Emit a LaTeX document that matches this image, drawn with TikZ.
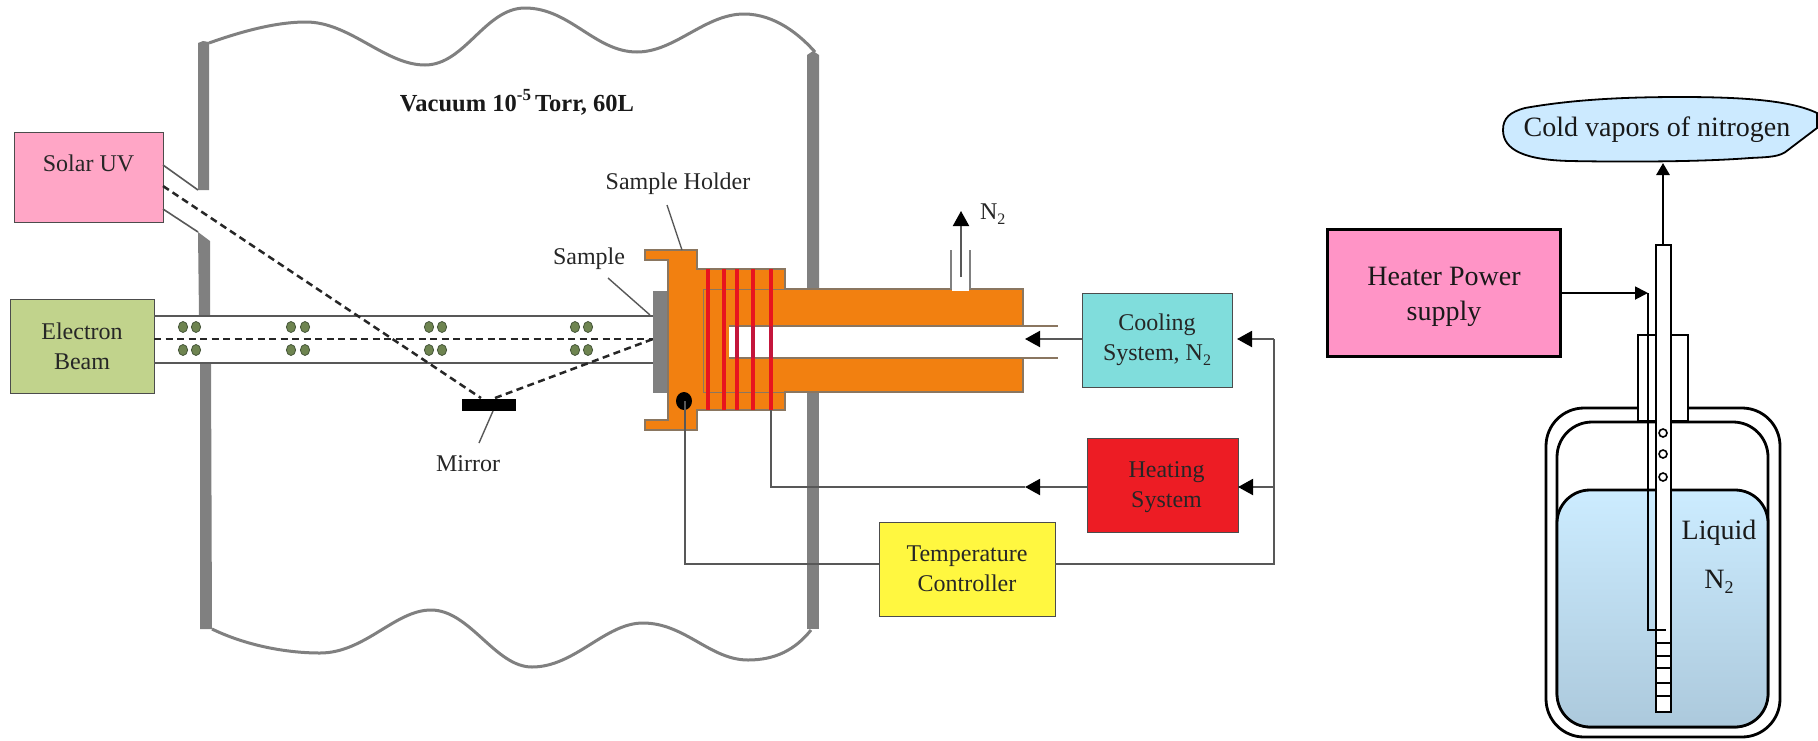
\documentclass[tikz,border=0pt]{standalone}
\usepackage{fontspec}
\setmainfont{Liberation Serif}
\usetikzlibrary{arrows.meta}
\definecolor{wallgray}{HTML}{808080}
\definecolor{wiregray}{HTML}{585858}
\definecolor{holderorange}{HTML}{F28010}
\definecolor{holderedge}{HTML}{8A7660}
\definecolor{coilred}{HTML}{E8141E}
\definecolor{coilhole}{HTML}{C4163C}
\definecolor{dotolive}{HTML}{6E8450}
\definecolor{dotedge}{HTML}{46563A}
\newcommand{\subtwo}[1]{\raisebox{-5pt}{\fontsize{#1}{#1}\selectfont 2}}
\newcommand{\fs}[1]{\fontsize{#1}{#1}\selectfont}
\tikzset{
  wallbar/.style={fill=wallgray,draw=none},
  wave/.style={draw=wallgray,line width=3pt},
  wire/.style={draw=wiregray,line width=2pt},
  beamline/.style={draw=wiregray,line width=2.2pt},
  beamdash/.style={draw=black!85,line width=2.5pt,dash pattern=on 7pt off 4.5pt},
  flow/.style={wire,-{Triangle[length=15pt,width=16pt,fill=black,color=black]}},
  leftbox/.style={draw=black!70,line width=1pt,inner sep=0pt,outer sep=0pt,align=center,font=\fs{24},text=black!85},
  lefttext/.style={inner sep=0pt,outer sep=0pt,align=center,font=\fs{24},text=black!85},
  rightline/.style={draw=black,line width=2.8pt},
  righttext/.style={inner sep=0pt,outer sep=0pt,align=center,font=\fs{28},text=black!90},
  edot/.style={fill=dotolive,draw=dotedge,line width=.8pt},
  coil/.style={draw=coilred,line width=4.5pt}
}
\begin{document}
\begin{tikzpicture}[x=1pt,y=-1pt,line join=miter]
\useasboundingbox (0,0) rectangle (1818,740);
\fill[white] (0,0) rectangle (1818,740);

% ---- chamber walls
\fill[wallbar] (198,43) -- (203,41) -- (209,42) -- (209,190) -- (198,190) -- cycle;
\fill[wallbar] (198,232) -- (210,241) -- (210,316) -- (199,316) -- cycle;
\fill[wallbar] (200,363) -- (211,363) -- (212,629) -- (200,629) -- cycle;
\fill[wallbar] (807,55) -- (813,51) -- (819,55) -- (819,289) -- (807,289) -- cycle;
\fill[wallbar] (807,392) -- (819,392) -- (819,629) -- (807,629) -- cycle;
\draw[wave] (209,43) .. controls (240,32) and (275,22) .. (306,22) .. controls (350,22) and (385,65) .. (425,65) .. controls (465,65) and (485,8) .. (525,8) .. controls (570,8) and (595,52) .. (637,52) .. controls (675,52) and (705,14) .. (744,14) .. controls (775,14) and (800,35) .. (815,52);
\draw[wave] (212,629) .. controls (245,645) and (285,653) .. (320,653) .. controls (365,653) and (395,610) .. (431,610) .. controls (470,610) and (495,667) .. (532,667) .. controls (575,667) and (605,623) .. (643,623) .. controls (685,623) and (710,660) .. (748,660) .. controls (775,660) and (795,650) .. (811,630);

\node[inner sep=0pt,font=\bfseries\fs{24.5},text=black!90] (vac) at (517,102) {Vacuum 10\raisebox{11pt}{\fs{17}-5}\,Torr, 60L};

% ---- source boxes
\node[leftbox,fill={rgb,255:red,255;green,166;blue,198},minimum width=149pt,minimum height=90pt] (solar) at (88.5,177) {\raisebox{28pt}{Solar UV}};
\node[leftbox,fill={rgb,255:red,193;green,211;blue,140},minimum width=144pt,minimum height=94pt] (ebeam) at (82,346) {Electron\\[6pt]Beam};

% ---- sample holder
\fill[holderorange,draw=holderedge,line width=1.4pt] (645,250) -- (697,250) -- (697,269) -- (785,269) -- (785,289) -- (1023,289) -- (1023,392) -- (785,392) -- (785,410) -- (697,410) -- (697,430) -- (645,430) -- (645,420) -- (668,420) -- (668,260) -- (645,260) -- cycle;
\fill[white] (729,326) rectangle (1024,358);
\draw[holderedge,line width=1.6pt] (729,326) -- (1058,326);
\draw[holderedge,line width=1.6pt] (729,358) -- (1058,358);
\draw[holderedge,line width=1pt] (785,289) -- (703,289) -- (703,392) -- (785,392);
\fill[wallgray] (653,291) rectangle (667,393);
\fill[black] (684,401) ellipse [x radius=8,y radius=9];
\coordinate (dotS) at (685,401);
\foreach \cx in {708,724,771}{\draw[coil] (\cx,269) -- (\cx,410);}
\foreach \cx in {737,753}{\draw[coil] (\cx,269) -- (\cx,326);\draw[coil] (\cx,358) -- (\cx,410);\draw[coilhole,line width=4.5pt] (\cx,326) -- (\cx,358);}
\draw[coilhole,line width=4.5pt] (771,326) -- (771,358);
\coordinate (coilEnd) at (771,410);

% ---- beam tube
\coordinate (tubeTopR) at (653,316);
\coordinate (tubeBotR) at (653,363);
\coordinate (beamEnd) at (653,339);
\coordinate (mirrorL) at (481,398);
\coordinate (mirrorR) at (495,398);
\draw[beamline] (ebeam.east |- tubeTopR) -- (tubeTopR);
\draw[beamline] (ebeam.east |- tubeBotR) -- (tubeBotR);
\foreach \cx in {183,196,291,305,429,442,575,588}{
  \fill[edot] (\cx,327) ellipse [x radius=4.6,y radius=5.5];
  \fill[edot] (\cx,350) ellipse [x radius=4.6,y radius=5.5];
}
\draw[beamdash] (ebeam.east |- beamEnd) -- (beamEnd);

% ---- UV path
\coordinate (uvStart) at (163,186);
\coordinate (uvUpA) at (163,165);
\coordinate (uvUpB) at (198,190);
\coordinate (uvLoA) at (163,209);
\coordinate (uvLoB) at (198,232);
\draw[beamline,line width=1.6pt] (uvUpA) -- (uvUpB);
\draw[beamline,line width=1.6pt] (uvLoA) -- (uvLoB);
\draw[beamdash] (uvStart) -- (mirrorL);
\draw[beamdash] (mirrorR) -- (beamEnd);
\node[fill=black,inner sep=0pt,outer sep=0pt,minimum width=54pt,minimum height=12pt] (mirror) at (489,405) {};
\node[lefttext] (mirrorlab) at (468,464) {Mirror};
\draw[wire,line width=1.4pt] (493,411) -- (479,443);

\node[lefttext] (samplelab) at (589,259) {Sample};
\coordinate (sampleTip) at (650,315);
\draw[wire,line width=1.4pt] (608,278) -- (sampleTip);
\node[lefttext] (holderlab) at (678,184) {Sample Holder};
\coordinate (holderTip) at (682,250);
\draw[wire,line width=1.4pt] (667,205) -- (holderTip);

% ---- N2 vent
\fill[white] (952,288) rectangle (969,291);
\draw[wallgray,line width=1.6pt] (951,250) -- (951,289);
\draw[wallgray,line width=1.6pt] (970,250) -- (970,289);
\coordinate (ventBase) at (961,277);
\coordinate (ventTip) at (961,211);
\draw[flow,line width=2pt] (ventBase) -- (ventTip);
\node[lefttext,anchor=west] (n2top) at (980,214) {N\subtwo{16}};

% ---- control boxes
\node[leftbox,fill={rgb,255:red,128;green,221;blue,220},minimum width=150pt,minimum height=94pt] (cooling) at (1157,340) {Cooling\\[6pt]System, N\subtwo{16}};
\node[leftbox,fill={rgb,255:red,237;green,28;blue,36},minimum width=151pt,minimum height=94pt] (heating) at (1162.5,485) {\hspace*{8pt}\rule{0pt}{21pt}Heating\\[6pt]\hspace*{8pt}System};
\node[leftbox,fill={rgb,255:red,255;green,247;blue,64},minimum width=176pt,minimum height=94pt] (temp) at (967,569) {Temperature\\[6pt]Controller};

\coordinate (bus) at (1274,339);
\coordinate (busH) at (1274,487);
\coordinate (hTip) at (1025,487);
\coordinate (cTip) at (1025,339);
\coordinate (tempY) at (967,564);
\draw[flow] (cooling.west |- cTip) -- (cTip);
\draw[flow] (heating.west |- hTip) -- (hTip);
\draw[wire] (hTip) -| (coilEnd);
\draw[wire] (dotS) |- (temp.west |- tempY);
\draw[wire] (temp.east |- tempY) -| (bus);
\draw[flow] (bus) -- ([xshift=5pt]cooling.east |- bus);
\draw[flow] (busH) -- (heating.east |- busH);

% ================ right part: dewar
\draw[rightline,rounded corners=38pt] (1546,408) rectangle (1780,737);
\draw[rightline,rounded corners=35pt] (1557,422) rectangle (1768,727);
\draw[rightline,rounded corners=33pt,top color={rgb,255:red,204;green,236;blue,255},bottom color={rgb,255:red,172;green,201;blue,220}] (1557,490) rectangle (1768,727);
\fill[white,draw=black,line width=2.8pt] (1638,335) rectangle (1688,421);
\node[righttext] (liq) at (1719,533) {Liquid};
\node[righttext] (liqn) at (1719,582) {N\subtwo{18}};
\fill[white,draw=black,line width=2.8pt] (1656,245) rectangle (1671,712);
\foreach \hy in {433,454,477}{\draw[fill=white,draw=black,line width=1.6pt] (1663,\hy) circle (4);}
\foreach \hy in {643,656,668,683,696}{\draw[black,line width=1.4pt] (1656,\hy) -- (1671,\hy);}

% cloud
\draw[fill={rgb,255:red,204;green,234;blue,255},draw=black,line width=1.8pt] (1503,130) .. controls (1503,118) and (1510,112) .. (1525,108) .. controls (1570,100) and (1620,97) .. (1680,97) .. controls (1740,97) and (1790,100) .. (1817,113) -- (1817,128) -- (1788,150) .. controls (1780,157) and (1770,157) .. (1750,158) .. controls (1700,162) and (1620,162) .. (1570,161) .. controls (1525,160) and (1503,150) .. (1503,130) -- cycle;
\node[righttext] (cloud) at (1657,130) {Cold vapors of nitrogen};

\coordinate (tubeTop) at (1663,245);
\coordinate (cloudBot) at (1663,163);
\draw[draw=black,line width=2.8pt,-{Triangle[length=12pt,width=13pt]}] (tubeTop) -- (cloudBot);

\node[fill={rgb,255:red,255;green,148;blue,198},draw=black,line width=3pt,righttext,minimum width=233pt,minimum height=127pt] (heater) at (1444,293) {\rule{0pt}{26pt}Heater Power\\[7pt]supply};
\coordinate (wireTop) at (1648,293);
\coordinate (wireBot) at (1648,630);
\coordinate (wireEnd) at (1666,630);
\draw[draw=black,line width=1.8pt,-{Triangle[length=13pt,width=13pt]}] (heater.east) -- (wireTop);
\draw[draw=black,line width=1.5pt] (wireTop) -- (wireBot) -- (wireEnd);
\end{tikzpicture}
\end{document}
